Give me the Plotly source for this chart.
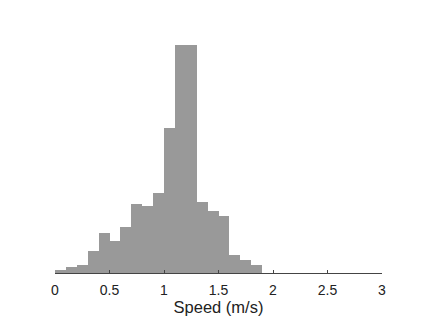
import plotly.graph_objects as go

bin_starts = [0.0, 0.1, 0.2, 0.3, 0.4, 0.5, 0.6, 0.7, 0.8, 0.9, 1.0, 1.1, 1.2, 1.3, 1.4, 1.5, 1.6, 1.7, 1.8]
counts = [2.7, 6.3, 8.3, 21.7, 40, 32, 46, 69, 67, 79.7, 144.7, 228.3, 227.7, 71.3, 62.3, 57.3, 18.3, 13.3, 7.7]
tick_vals = [0, 0.5, 1, 1.5, 2, 2.5, 3]
tick_text = ["0", "0.5", "1", "1.5", "2", "2.5", "3"]
bin_width = 0.1

centers = [s + bin_width / 2 for s in bin_starts]

fig = go.Figure(go.Bar(
    x=centers, y=counts, width=[bin_width] * len(centers),
    marker=dict(color="rgb(153,153,153)", line=dict(width=0)),
))

fig.update_layout(
    width=423, height=317,
    margin=dict(l=55, r=41, t=33, b=44),
    plot_bgcolor="white", paper_bgcolor="white",
    showlegend=False, bargap=0,
    font=dict(family="Liberation Sans, Arial, sans-serif", size=14, color="#222"),
    xaxis=dict(
        range=[0, 3], tickvals=tick_vals, ticktext=tick_text, automargin=False,
        showgrid=False, zeroline=False, showline=True, linecolor="#444", linewidth=1,
        ticks="inside", ticklen=3, tickcolor="#444", ticklabelstandoff=4,
        title=dict(text="Speed (m/s)", standoff=1, font=dict(size=16.5)),
    ),
    yaxis=dict(range=[0, 240], visible=False),
)

fig.write_html("out.html")
